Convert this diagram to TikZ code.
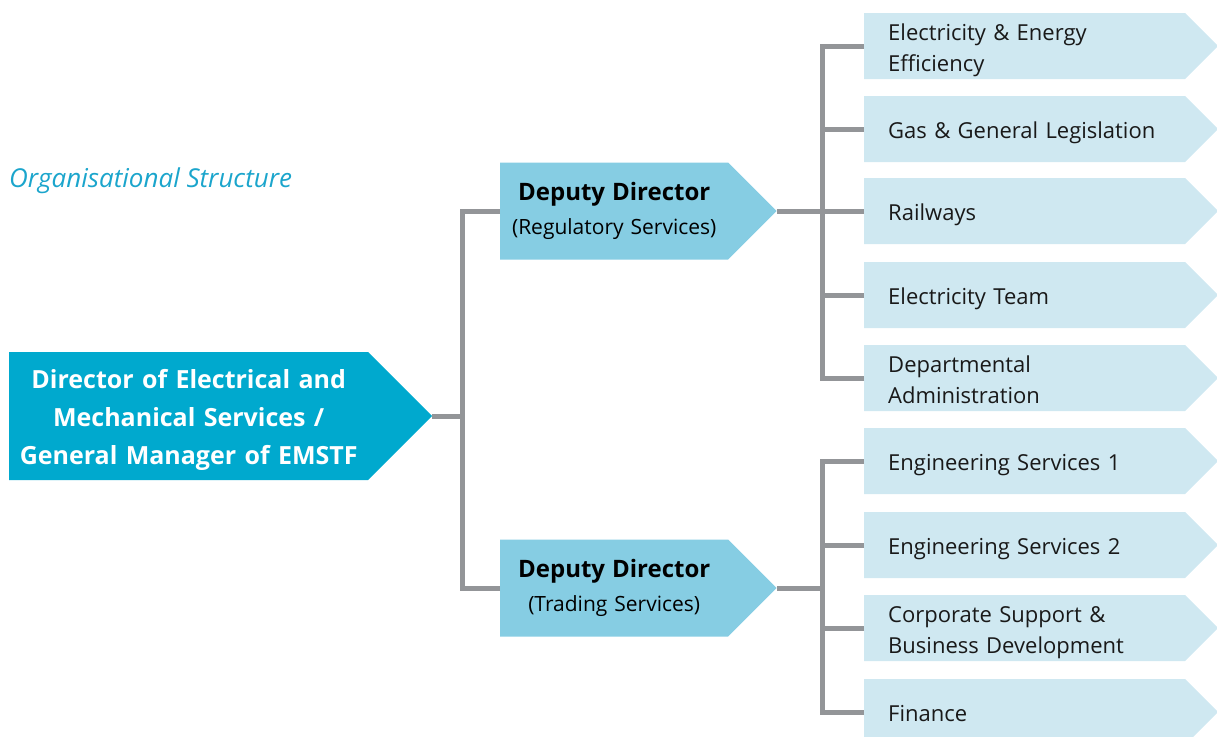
\documentclass[tikz,border=0pt]{standalone}
\usepackage{fontspec}
\setmainfont{Open Sans}
\usetikzlibrary{shapes.symbols}
\definecolor{dirblue}{RGB}{0,169,206}
\definecolor{depblue}{RGB}{134,205,227}
\definecolor{unitblue}{RGB}{207,232,241}
\definecolor{linegray}{RGB}{147,149,152}
\definecolor{titleblue}{RGB}{27,165,204}
\newcommand{\deptitle}[1]{{\fontsize{24}{34}\selectfont\bfseries #1}}
\tikzset{
  arrowbox/.style={shape=signal, signal to=east, signal from=nowhere,
    signal pointer angle=90, inner ysep=0pt, anchor=west},
  director/.style={arrowbox, fill=dirblue, text=white, minimum height=128pt,
    text width=353pt, inner xsep=3pt, align=center,
    text height=27pt, text depth=82pt,
    font=\fontsize{25}{38}\selectfont\bfseries},
  deputy/.style={arrowbox, fill=depblue, minimum height=97pt,
    text width=222pt, inner xsep=3pt, align=center,
    font=\fontsize{21}{34}\selectfont},
  unit/.style={arrowbox, fill=unitblue, text=black!90, minimum height=66pt,
    text width=273pt, inner xsep=24pt, align=left,
    text height=24pt, text depth=5pt,
    font=\fontsize{22}{31}\selectfont},
  twoline/.style={text depth=36pt},
  link/.style={draw=linegray, line width=5pt},
}

\begin{document}
\begin{tikzpicture}[x=1pt,y=-1pt]
\useasboundingbox (0,0) rectangle (1217,736);
\node[anchor=west, inner sep=0pt, text=titleblue, font=\fontsize{26}{32}\selectfont\itshape] (title) at (9,181) {Organisational Structure};

\node[director] (dir) at (9,416) {Director of Electrical and\\Mechanical Services /\\General Manager of EMSTF};
\node[deputy] (reg) at (500,211) {\deptitle{Deputy Director}\\(Regulatory Services)};
\node[deputy] (trd) at (500,588) {\deptitle{Deputy Director}\\(Trading Services)};

\node[unit, twoline] (u1) at (864,46) {Electricity \& Energy\\Efficiency};
\node[unit] (u2) at (864,129) {Gas \& General Legislation};
\node[unit] (u3) at (864,211) {Railways};
\node[unit] (u4) at (864,295) {Electricity Team};
\node[unit, twoline] (u5) at (864,378) {Departmental\\Administration};
\node[unit] (u6) at (864,461) {Engineering Services 1};
\node[unit] (u7) at (864,545) {Engineering Services 2};
\node[unit, twoline] (u8) at (864,628) {Corporate Support \&\\Business Development};
\node[unit] (u9) at (864,712) {Finance};

\coordinate (jd) at (462,416);
\coordinate (jr) at (822,211);
\coordinate (jt) at (822,588);

\draw[link] (dir.east) -- (jd);
\draw[link] (reg.west) -| (jd);
\draw[link] (trd.west) -| (jd);
\draw[link] (reg.east) -- (jr);
\foreach \u in {u1,u2,u3,u4,u5}
  \draw[link] (\u.west) -| (jr);
\draw[link] (trd.east) -- (jt);
\foreach \u in {u6,u7,u8,u9}
  \draw[link] (\u.west) -| (jt);
\end{tikzpicture}
\end{document}
